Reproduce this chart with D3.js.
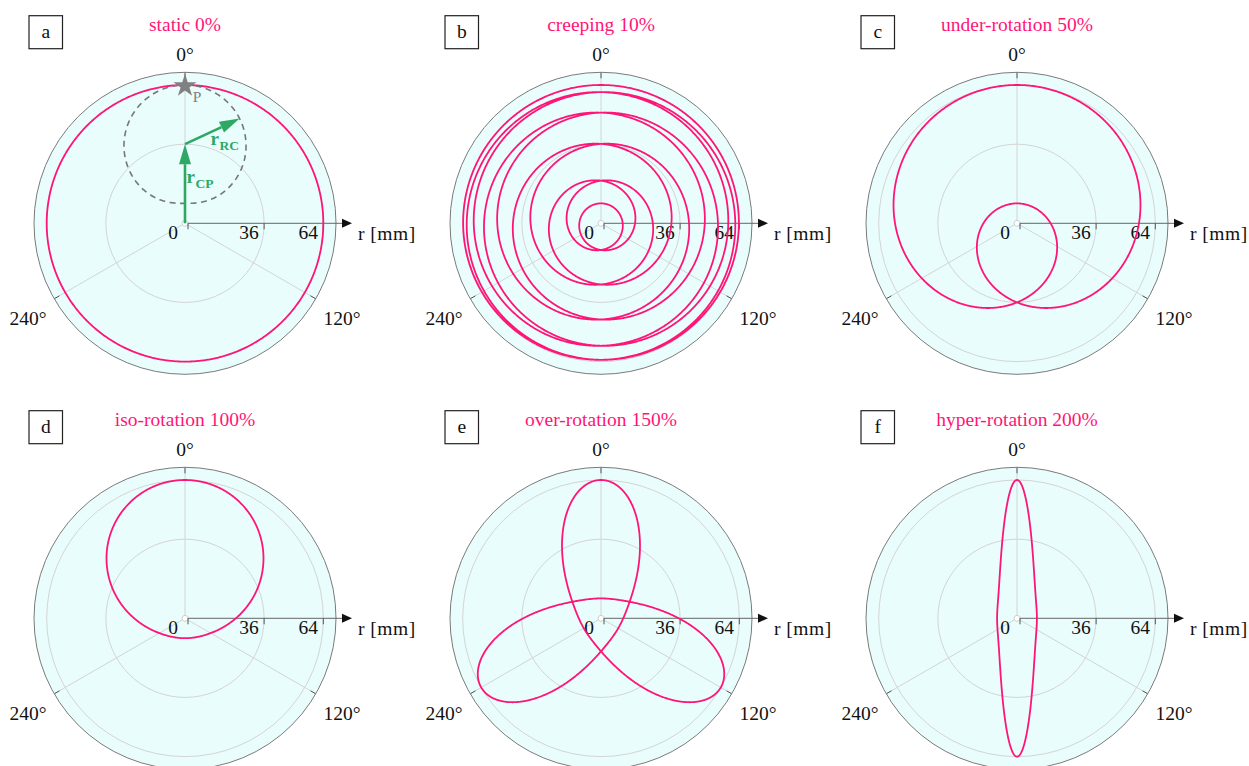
<!DOCTYPE html>
<html>
<head>
<meta charset="utf-8">
<script src="https://cdn.jsdelivr.net/npm/d3@7"></script>
<style>
  html, body { margin: 0; padding: 0; background: #ffffff; }
  svg { display: block; font-family: "Liberation Serif", "DejaVu Serif", serif; }
</style>
</head>
<body>
<svg id="chart" width="1249" height="766"></svg>
<script>
// Rotor kinematics: crank C orbits the origin, point P rides on a roller around C.
const panelLetters   = ["a", "b", "c", "d", "e", "f"];
const panelTitles    = ["static 0%", "creeping 10%", "under-rotation 50%",
                        "iso-rotation 100%", "over-rotation 150%", "hyper-rotation 200%"];
const rotationRatios = [0, 0.10, 0.50, 1.00, 1.50, 2.00];   // roller spin relative to orbit
const orbitTurns     = [1, 10, 2, 1, 2, 1];                  // orbits needed to close each path
const crankRadius  = 36;   // r_CP [mm]
const rollerRadius = 28;   // r_RC [mm]
const radialTicks  = [0, 36, 64];
const gridRadii    = [36, 64];
const angleTicks   = [0, 120, 240];
const radialMax    = 70;
const sketchArmAngle = 64; // direction of r_RC in the sketch of panel a [deg]

const PINK = "#ff1577", GREEN = "#2fa866", GREY = "#7a7a7a";
const outerR = 151, holeR = 3;
const cols = 3, cellW = 416, cellH = 395, firstCx = 185, firstCy = 223.3;
const FS = 19.5;

const svg = d3.select("#chart");
const rScale = d3.scaleLinear().domain([0, radialMax]).range([holeR, outerR]);

// cartesian mm (x right, y up) -> [angle clockwise from top, radius mm]
const toPolar = ([x, y]) => [Math.atan2(x, y), Math.hypot(x, y)];
const radialLine = d3.lineRadial()
  .angle(d => d[0])
  .radius(d => rScale(d[1]));
const toPixel = xy => {
  const [a, r] = toPolar(xy);
  const R = rScale(r);
  return [R * Math.sin(a), -R * Math.cos(a)];
};

function tracePoint(phi, ratio) {
  const psi = (1 - ratio) * phi;
  return [crankRadius * Math.sin(phi) + rollerRadius * Math.sin(psi),
          crankRadius * Math.cos(phi) + rollerRadius * Math.cos(psi)];
}

panelLetters.forEach((letter, i) => {
  const cx = firstCx + (i % cols) * cellW;
  const cy = firstCy + Math.floor(i / cols) * cellH;
  const g = svg.append("g").attr("transform", `translate(${cx},${cy})`);

  // panel letter box and title
  g.append("rect").attr("x", -156).attr("y", -207.6).attr("width", 33.5).attr("height", 33)
    .attr("fill", "#fff").attr("stroke", "#222").attr("stroke-width", 1.2);
  g.append("text").attr("x", -139.2).attr("y", -185.5).attr("text-anchor", "middle")
    .attr("font-size", FS).attr("fill", "#111").text(letter);
  g.append("text").attr("x", 0).attr("y", -192).attr("text-anchor", "middle")
    .attr("font-size", FS).attr("fill", PINK).text(panelTitles[i]);

  // polar background
  g.append("circle").attr("r", outerR).attr("fill", "#e9fdfd").attr("stroke", "none");

  // circular grid
  g.selectAll(".grid").data(gridRadii).join("circle")
    .attr("r", d => rScale(d)).attr("fill", "none").attr("stroke", "#d4d4d4").attr("stroke-width", 1);

  // spokes
  angleTicks.forEach(deg => {
    const a = deg * Math.PI / 180;
    g.append("line")
      .attr("x1", holeR * Math.sin(a)).attr("y1", -holeR * Math.cos(a))
      .attr("x2", outerR * Math.sin(a)).attr("y2", -outerR * Math.cos(a))
      .attr("stroke", "#d4d4d4").attr("stroke-width", 1);
    g.append("line")
      .attr("x1", (outerR - 6) * Math.sin(a)).attr("y1", -(outerR - 6) * Math.cos(a))
      .attr("x2", outerR * Math.sin(a)).attr("y2", -outerR * Math.cos(a))
      .attr("stroke", "#555").attr("stroke-width", 1);
  });
  g.append("circle").attr("r", holeR).attr("fill", "#fff").attr("stroke", "#cfcfcf").attr("stroke-width", 1);

  // outer frame
  g.append("circle").attr("r", outerR).attr("fill", "none").attr("stroke", GREY).attr("stroke-width", 1);

  // angle labels
  angleTicks.forEach(deg => {
    const a = deg * Math.PI / 180;
    const t = g.append("text").attr("font-size", FS).attr("fill", "#111")
      .attr("text-anchor", "middle").attr("dominant-baseline", "central").text(deg + "°");
    const bb = t.node().getBBox();
    const dx = Math.sin(a), dy = -Math.cos(a);
    const ext = (bb.width / 2) * Math.abs(dx) + 6.5 * Math.abs(dy);
    const d = outerR + 11 + ext;
    t.attr("x", d * dx).attr("y", d * dy + (dy > 0 ? 5 : 0));
  });

  // radial axis with arrow
  g.append("line").attr("x1", holeR).attr("y1", 0).attr("x2", 160).attr("y2", 0)
    .attr("stroke", "#666").attr("stroke-width", 1);
  g.append("path").attr("d", "M157,-4.5L167,0L157,4.5Z").attr("fill", "#111");
  radialTicks.forEach(v => {
    const x = rScale(v);
    g.append("line").attr("x1", x).attr("y1", 0).attr("x2", x).attr("y2", 6)
      .attr("stroke", "#555").attr("stroke-width", 1);
    g.append("text").attr("x", x - 15).attr("y", 16).attr("text-anchor", "middle")
      .attr("font-size", FS).attr("fill", "#111").text(v);
  });
  g.append("text").attr("x", 173).attr("y", 17).attr("font-size", FS).attr("fill", "#111")
    .attr("letter-spacing", 0.5).text("r [mm]");

  // traced path of P
  const ratio = rotationRatios[i];
  const n = 720 * orbitTurns[i];
  const pts = d3.range(n + 1).map(k => toPolar(tracePoint(2 * Math.PI * orbitTurns[i] * k / n, ratio)));
  g.append("path").attr("d", radialLine(pts)).attr("fill", "none")
    .attr("stroke", PINK).attr("stroke-width", 1.8).attr("stroke-linejoin", "round");

  if (i === 0) drawSketch(g);
});

// construction sketch: crank r_CP, roller r_RC, roller circle and point P
function drawSketch(g) {
  const C = [0, crankRadius];
  const circlePts = d3.range(361).map(k => {
    const a = k * Math.PI / 180;
    return toPolar([C[0] + rollerRadius * Math.sin(a), C[1] + rollerRadius * Math.cos(a)]);
  });
  g.append("path").attr("d", radialLine(circlePts)).attr("fill", "none")
    .attr("stroke", "#777").attr("stroke-width", 1.6).attr("stroke-dasharray", "6,4.5");

  const arrow = (from, to) => {
    const [x0, y0] = from, [x1, y1] = to;
    const L = Math.hypot(x1 - x0, y1 - y0), ux = (x1 - x0) / L, uy = (y1 - y0) / L;
    const hl = 20, hw = 6;
    const bx = x1 - ux * hl, by = y1 - uy * hl;
    g.append("line").attr("x1", x0).attr("y1", y0).attr("x2", bx).attr("y2", by)
      .attr("stroke", GREEN).attr("stroke-width", 2.6);
    g.append("path")
      .attr("d", `M${x1},${y1}L${bx - uy * hw},${by + ux * hw}L${bx + uy * hw},${by - ux * hw}Z`)
      .attr("fill", GREEN);
  };
  const cPix = toPixel(C);
  const a = sketchArmAngle * Math.PI / 180;
  const armPix = toPixel([C[0] + rollerRadius * Math.sin(a), C[1] + rollerRadius * Math.cos(a)]);
  arrow([0, 0], cPix);
  arrow(cPix, armPix);

  const lbl = (x, y, sub, subDx) => {
    const t = g.append("text").attr("x", x).attr("y", y).attr("fill", GREEN)
      .attr("font-weight", "bold").attr("font-size", 19);
    t.append("tspan").text("r");
    t.append("tspan").attr("font-size", 13.5).attr("dy", 5).attr("dx", subDx).text(sub);
  };
  lbl(25.5, -78.5, "RC", 0.5);
  lbl(1.5, -40, "CP", 0.5);

  // point P on the roller
  const pPix = toPixel([0, crankRadius + rollerRadius]);
  g.append("path").attr("d", d3.symbol(d3.symbolStar).size(165)())
    .attr("transform", `translate(${pPix[0]},${pPix[1] + 1})`).attr("fill", "#808080");
  g.append("text").attr("x", 7.7).attr("y", -121.6).attr("font-size", 15.5).attr("fill", "#808080").text("P");
}
</script>
</body>
</html>
